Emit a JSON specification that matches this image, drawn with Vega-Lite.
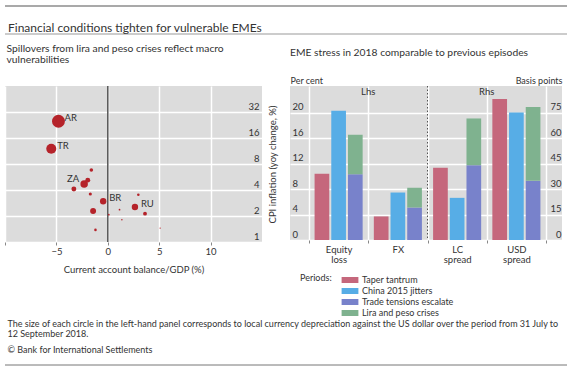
{
  "$schema": "https://vega.github.io/schema/vega-lite/v6.json",
  "background": "white",
  "padding": {"left": 4, "top": 5, "right": 4, "bottom": 4},
  "spacing": 8,
  "bounds": "full",
  "config": {
    "font": "Lato",
    "view": {"stroke": null},
    "axis": {"labelColor": "#333", "titleColor": "#333", "titleFontWeight": "normal", "domain": false, "labelFontSize": 9.5, "titleFontSize": 9.5, "labelOverlap": false},
    "legend": {"labelColor": "#333", "titleColor": "#333", "titleFontWeight": "normal"},
    "title": {"color": "#333", "subtitleColor": "#333", "fontWeight": "normal"}
  },
  "vconcat": [
    {
      "width": 562,
      "height": 28,
      "data": {"values": [{"title": "Financial conditions tighten for vulnerable EMEs"}]},
      "layer": [
        {"mark": {"type": "rule", "color": "#555", "strokeWidth": 1.2},
         "encoding": {"y": {"datum": 1, "type": "quantitative", "scale": {"domain": [0, 1]}, "axis": null}}},
        {"mark": {"type": "rule", "color": "#999", "strokeWidth": 1},
         "encoding": {"y": {"datum": 0, "type": "quantitative", "scale": {"domain": [0, 1]}, "axis": null}}},
        {"mark": {"type": "text", "align": "left", "baseline": "middle", "fontSize": 12, "color": "#333", "dx": 3},
         "encoding": {
           "x": {"datum": 0, "type": "quantitative", "scale": {"domain": [0, 1]}, "axis": null},
           "y": {"datum": 0.23, "type": "quantitative", "scale": {"domain": [0, 1]}, "axis": null},
           "text": {"field": "title"}}}
      ]
    },
    {
      "spacing": 2,
      "vconcat": [
        {
          "bounds": "flush",
          "spacing": 28,
          "resolve": {"scale": {"color": "independent"}, "legend": {"color": "independent"}},
          "hconcat": [
            {
              "width": 257,
              "height": 156,
              "title": {"text": ["Spillovers from lira and peso crises reflect macro", "vulnerabilities"], "anchor": "start", "fontSize": 10.3, "lineHeight": 11, "offset": 20, "dx": 2},
              "view": {"fill": "#dcdcdc", "stroke": null},
              "data": {"values": [
                {"country": "AR", "ca": -4.8, "cpi": 25, "depr": 45},
                {"country": "TR", "ca": -5.5, "cpi": 12, "depr": 27},
                {"country": "ZA", "ca": -2.3, "cpi": 4.7, "depr": 15},
                {"country": "", "ca": -1.95, "cpi": 5.2, "depr": 6.5},
                {"country": "", "ca": -1.6, "cpi": 6.8, "depr": 3.4},
                {"country": "", "ca": -3.3, "cpi": 4.1, "depr": 6.5},
                {"country": "", "ca": -1.7, "cpi": 3.6, "depr": 2.6},
                {"country": "BR", "ca": -0.45, "cpi": 2.96, "depr": 11},
                {"country": "", "ca": -1.43, "cpi": 2.29, "depr": 9.5},
                {"country": "", "ca": 0.1, "cpi": 2.07, "depr": 0.8},
                {"country": "", "ca": 1.14, "cpi": 2.37, "depr": 0.8},
                {"country": "", "ca": 1.37, "cpi": 1.81, "depr": 0.6},
                {"country": "", "ca": -1.2, "cpi": 1.38, "depr": 1.8},
                {"country": "RU", "ca": 2.64, "cpi": 2.54, "depr": 11},
                {"country": "", "ca": 3.62, "cpi": 2.13, "depr": 4},
                {"country": "", "ca": 2.97, "cpi": 3.53, "depr": 1.8},
                {"country": "", "ca": 5.09, "cpi": 1.45, "depr": 0.5}
              ]},
              "layer": [
                {
                  "data": {"values": [{"zero": 0}]},
                  "mark": {"type": "rule", "color": "#555", "strokeWidth": 1.5},
                  "encoding": {"x": {"field": "zero", "type": "quantitative"}}
                },
                {
                  "mark": {"type": "circle", "color": "#b5232a", "opacity": 1},
                  "encoding": {
                    "x": {"field": "ca", "type": "quantitative",
                          "scale": {"domain": [-10, 15], "nice": false, "zero": false},
                          "axis": {"values": [-10, -5, 0, 5, 10], "labelExpr": "datum.value == -10 ? '' : datum.label",
                                   "title": "Current account balance/GDP (%)", "grid": true, "gridColor": "white", "gridWidth": 1.5,
                                   "ticks": true, "tickSize": 3, "tickColor": "#888", "labelPadding": 1, "titlePadding": 9}},
                    "y": {"field": "cpi", "type": "quantitative",
                          "scale": {"type": "log", "base": 2, "domain": [1, 64], "nice": false},
                          "axis": {"orient": "right", "values": [1, 2, 4, 8, 16, 32], "labelAlign": "right", "labelPadding": -3,
                                   "labelBaseline": "bottom", "labelOffset": -1, "labelOverlap": false, "ticks": false, "grid": true, "gridColor": "white", "gridWidth": 1.5,
                                   "title": "CPI inflation (yoy change, %)", "titleAngle": 270, "titleX": 10, "titleY": 78,
                                   "titleAlign": "center", "titleBaseline": "middle"}},
                    "size": {"field": "depr", "type": "quantitative", "scale": {"domain": [0, 50], "range": [0, 186]}, "legend": null}
                  }
                },
                {
                  "transform": [{"filter": "datum.country != '' && datum.country != 'ZA'"}],
                  "mark": {"type": "text", "align": "left", "baseline": "middle", "dx": 6, "dy": -3, "fontSize": 9.5, "color": "#333"},
                  "encoding": {
                    "x": {"field": "ca", "type": "quantitative"},
                    "y": {"field": "cpi", "type": "quantitative"},
                    "text": {"field": "country"}
                  }
                },
                {
                  "transform": [{"filter": "datum.country == 'ZA'"}],
                  "mark": {"type": "text", "align": "right", "baseline": "middle", "dx": -5, "dy": -5, "fontSize": 9.5, "color": "#333"},
                  "encoding": {
                    "x": {"field": "ca", "type": "quantitative"},
                    "y": {"field": "cpi", "type": "quantitative"},
                    "text": {"field": "country"}
                  }
                }
              ]
            },
            {
              "width": 272,
              "height": 154,
              "title": {"text": "EME stress in 2018 comparable to previous episodes", "anchor": "start", "fontSize": 10.3, "offset": 18},
              "view": {"fill": "#dcdcdc", "stroke": null},
              "data": {"values": [
                {"cat": "Equity loss", "side": "L", "grp": "Taper", "period": "Taper tantrum", "value": 10.4},
                {"cat": "Equity loss", "side": "L", "grp": "China", "period": "China 2015 jitters", "value": 20.3},
                {"cat": "Equity loss", "side": "L", "grp": "2018", "period": "Trade tensions escalate", "value": 10.3},
                {"cat": "Equity loss", "side": "L", "grp": "2018", "period": "Lira and peso crises", "value": 6.2},
                {"cat": "FX", "side": "L", "grp": "Taper", "period": "Taper tantrum", "value": 3.7},
                {"cat": "FX", "side": "L", "grp": "China", "period": "China 2015 jitters", "value": 7.45},
                {"cat": "FX", "side": "L", "grp": "2018", "period": "Trade tensions escalate", "value": 5.1},
                {"cat": "FX", "side": "L", "grp": "2018", "period": "Lira and peso crises", "value": 3.1},
                {"cat": "LC spread", "side": "R", "grp": "Taper", "period": "Taper tantrum", "value": 42.5},
                {"cat": "LC spread", "side": "R", "grp": "China", "period": "China 2015 jitters", "value": 24.8},
                {"cat": "LC spread", "side": "R", "grp": "2018", "period": "Trade tensions escalate", "value": 44},
                {"cat": "LC spread", "side": "R", "grp": "2018", "period": "Lira and peso crises", "value": 27.5},
                {"cat": "USD spread", "side": "R", "grp": "Taper", "period": "Taper tantrum", "value": 83},
                {"cat": "USD spread", "side": "R", "grp": "China", "period": "China 2015 jitters", "value": 75},
                {"cat": "USD spread", "side": "R", "grp": "2018", "period": "Trade tensions escalate", "value": 34.8},
                {"cat": "USD spread", "side": "R", "grp": "2018", "period": "Lira and peso crises", "value": 43.5}
              ]},
              "layer": [
                {
                  "transform": [{"filter": "datum.side == 'L'"}],
                  "mark": {"type": "bar"},
                  "encoding": {
                    "x": {"field": "cat", "type": "nominal",
                          "scale": {"domain": ["Equity loss", "FX", "LC spread", "USD spread"], "paddingInner": 0, "paddingOuter": 0.295, "align": 0.543},
                          "axis": {"title": null, "labelExpr": "split(datum.label, ' ')", "labelAngle": 0, "tickBand": "extent",
                                   "grid": true, "gridColor": "white", "gridWidth": 1.5, "ticks": true, "tickSize": 3, "tickColor": "#888",
                                   "labelPadding": 1, "labelLineHeight": 10}},
                    "xOffset": {"field": "grp", "type": "nominal", "scale": {"domain": ["Taper", "China", "2018"], "paddingInner": 0.12, "paddingOuter": 0.335}},
                    "y": {"field": "value", "type": "quantitative",
                          "scale": {"domain": [0, 24.17], "nice": false},
                          "axis": {"orient": "left", "values": [0, 4, 8, 12, 16, 20], "title": "Per cent", "titleAngle": 0, "titleAlign": "left",
                                   "titleX": 0, "titleY": -6, "titleBaseline": "middle", "titleFontSize": 9,
                                   "labelAlign": "left", "labelPadding": -2, "labelBaseline": "bottom", "labelOffset": -1, "labelOverlap": false,
                                   "ticks": false, "grid": true, "gridColor": "white", "gridWidth": 1.5}},
                    "color": {"field": "period", "type": "nominal",
                              "scale": {"domain": ["Taper tantrum", "China 2015 jitters", "Trade tensions escalate", "Lira and peso crises"],
                                        "range": ["#c5677c", "#57ade6", "#7882cb", "#7fb28f"]},
                              "legend": {"title": "Periods:", "orient": "none", "legendX": 10, "legendY": 188, "titleOrient": "left",
                                         "titleAnchor": "start", "titleBaseline": "top",
                                         "titleFontSize": 9, "labelFontSize": 9, "symbolType": "M-1.4,-0.5H1.4V0.5H-1.4Z", "symbolSize": 144,
                                         "symbolStrokeWidth": 0, "rowPadding": 0, "labelOffset": 6, "titlePadding": 12, "padding": 0, "direction": "vertical"}},
                    "order": {"field": "period", "sort": "descending"}
                  }
                },
                {
                  "transform": [{"filter": "datum.side == 'R'"}],
                  "mark": {"type": "bar"},
                  "encoding": {
                    "x": {"field": "cat", "type": "nominal"},
                    "xOffset": {"field": "grp", "type": "nominal", "scale": {"domain": ["Taper", "China", "2018"], "paddingInner": 0.12, "paddingOuter": 0.335}},
                    "y": {"field": "value", "type": "quantitative",
                          "scale": {"domain": [0, 90.6], "nice": false},
                          "axis": {"orient": "right", "values": [0, 15, 30, 45, 60, 75], "title": "Basis points", "titleAngle": 0, "titleAlign": "right",
                                   "titleX": 0, "titleY": -6, "titleBaseline": "middle", "titleFontSize": 9,
                                   "labelAlign": "right", "labelPadding": -1, "labelBaseline": "bottom", "labelOffset": -1, "labelOverlap": false,
                                   "ticks": false, "grid": false}},
                    "color": {"field": "period", "type": "nominal"},
                    "order": {"field": "period", "sort": "descending"}
                  }
                },
                {
                  "data": {"values": [{"lbl": "Lhs", "cat": "FX", "pos": 0.96}, {"lbl": "Rhs", "cat": "USD spread", "pos": 0.96}]},
                  "mark": {"type": "text", "baseline": "middle", "fontSize": 9.5, "color": "#333"},
                  "encoding": {
                    "x": {"field": "cat", "type": "nominal", "bandPosition": 0},
                    "y": {"field": "pos", "type": "quantitative", "scale": {"domain": [0, 1]}, "axis": null},
                    "text": {"field": "lbl"}
                  }
                },
                {
                  "data": {"values": [{"cat": "LC spread"}]},
                  "mark": {"type": "rule", "color": "#555", "strokeDash": [1.5, 2], "strokeWidth": 1},
                  "encoding": {"x": {"field": "cat", "type": "nominal", "bandPosition": 0}}
                }
              ],
              "resolve": {"scale": {"y": "independent"}}
            }
          ]
        },
        {
          "width": 562,
          "height": 1,
          "data": {"values": [{"k": 0}]},
          "title": {"text": ["The size of each circle in the left-hand panel corresponds to local currency depreciation against the US dollar over the period from 31 July to", "12 September 2018."],
                    "subtitle": "© Bank for International Settlements", "anchor": "start", "fontSize": 9, "lineHeight": 10,
                    "subtitleFontSize": 9, "subtitlePadding": 7, "offset": 9, "dx": 3},
          "mark": {"type": "rule", "color": "#777", "strokeWidth": 1},
          "encoding": {"y": {"field": "k", "type": "quantitative", "scale": {"domain": [0, 1]}, "axis": null}}
        }
      ]
    }
  ]
}
